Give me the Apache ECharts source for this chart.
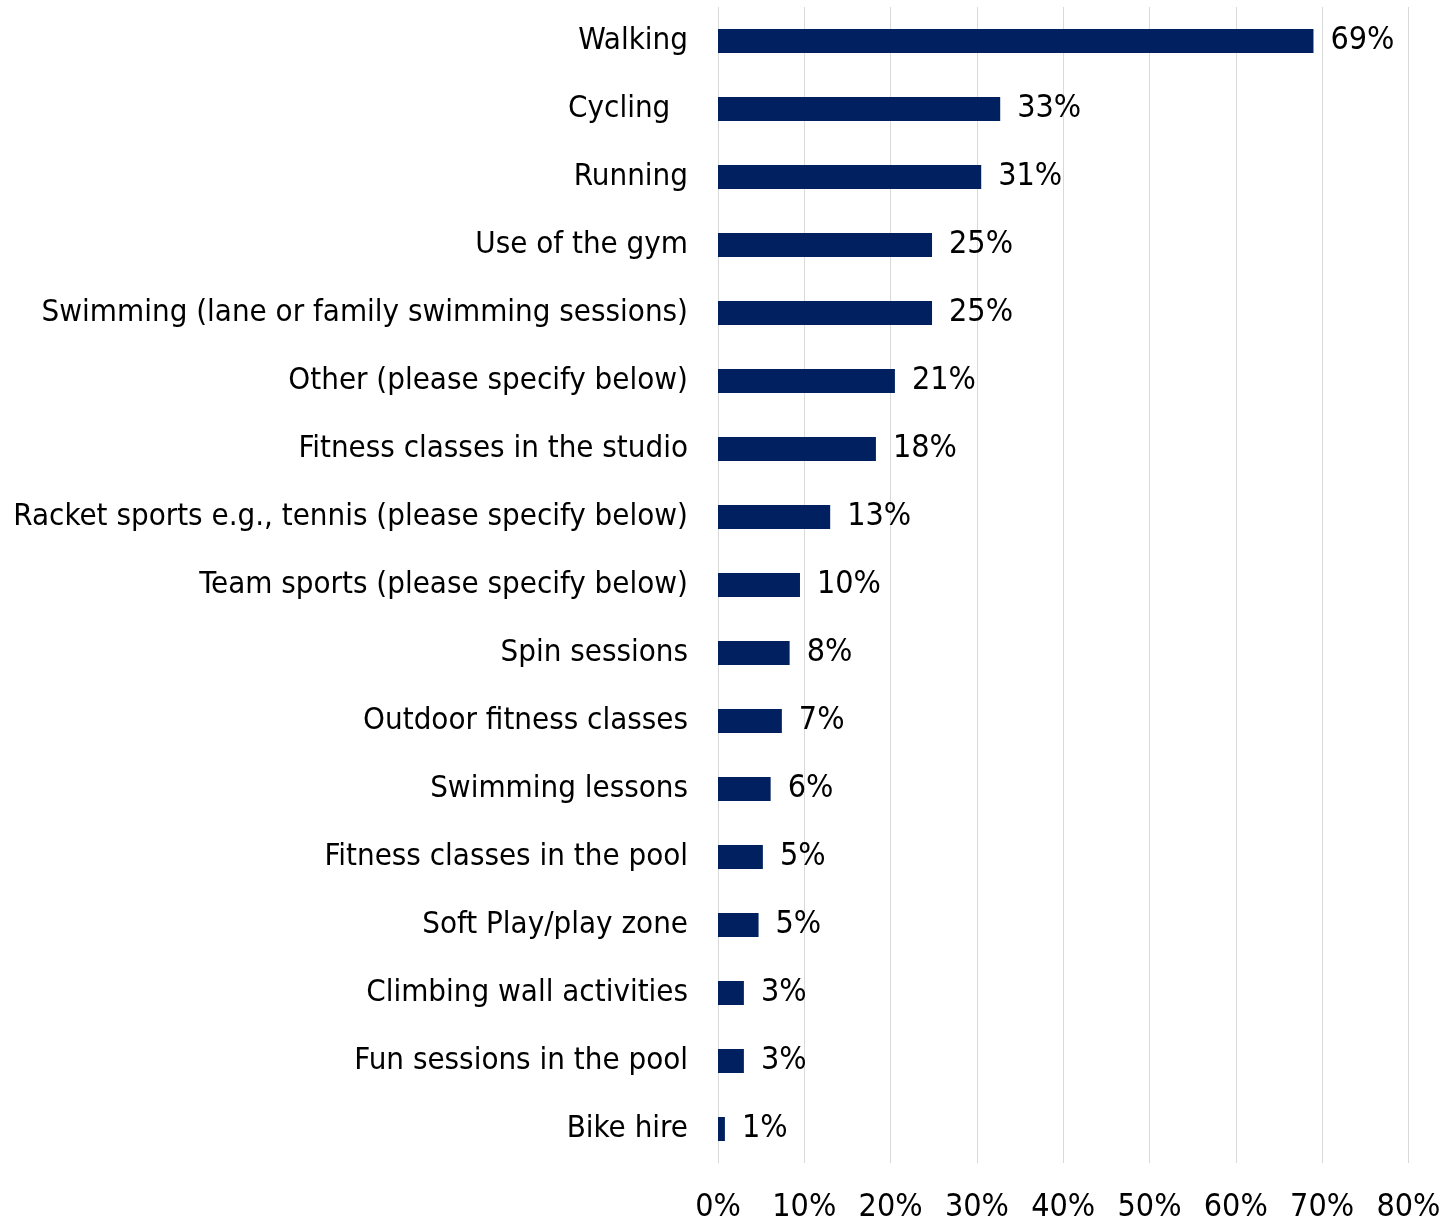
<!DOCTYPE html>
<html>
<head>
<meta charset="utf-8">
<script src="https://cdn.jsdelivr.net/npm/echarts@6/dist/echarts.min.js"></script>
<style>
html,body{margin:0;padding:0;background:#fff;}
#chart{width:1456px;height:1221px;}
</style>
</head>
<body>
<div id="chart"></div>
<script>
var categories = [
  "Walking",
  "Cycling  ",
  "Running",
  "Use of the gym",
  "Swimming (lane or family swimming sessions)",
  "Other (please specify below)",
  "Fitness classes in the studio",
  "Racket sports e.g., tennis (please specify below)",
  "Team sports (please specify below)",
  "Spin sessions",
  "Outdoor fitness classes",
  "Swimming lessons",
  "Fitness classes in the pool",
  "Soft Play/play zone",
  "Climbing wall activities",
  "Fun sessions in the pool",
  "Bike hire"
];
var values = [69.0, 32.7, 30.5, 24.8, 24.8, 20.5, 18.3, 13.0, 9.5, 8.3, 7.4, 6.1, 5.2, 4.7, 3.0, 3.0, 0.8];
var xTicks = [0, 10, 20, 30, 40, 50, 60, 70, 80];

var FONT = "'DejaVu Sans Condensed', 'DejaVu Sans', sans-serif";
var FS = 31;
var chart = echarts.init(document.getElementById('chart'));
chart.setOption({
  animation: false,
  backgroundColor: '#ffffff',
  grid: {left: 718, right: 47.6, top: 7, bottom: 58, containLabel: false, outerBoundsMode: 'none'},
  xAxis: {
    type: 'value',
    min: xTicks[0],
    max: xTicks[xTicks.length - 1],
    interval: xTicks[1] - xTicks[0],
    axisLine: {show: false},
    axisTick: {show: false},
    splitLine: {show: true, lineStyle: {color: '#d9d9d9', width: 1}},
    axisLabel: {
      formatter: '{value}%',
      color: '#000',
      fontFamily: FONT,
      fontSize: 32,
      margin: 29
    }
  },
  yAxis: {
    type: 'category',
    data: categories,
    inverse: true,
    axisLine: {show: false},
    axisTick: {show: false},
    axisLabel: {
      color: '#000',
      fontFamily: FONT,
      fontSize: FS,
      margin: 30,
      padding: [4, 0, 0, 0]
    }
  },
  series: [{
    type: 'bar',
    data: values,
    barWidth: 24,
    itemStyle: {color: '#002060'},
    label: {
      show: true,
      position: 'right',
      distance: 17,
      color: '#000',
      fontFamily: FONT,
      fontSize: 32,
      padding: [4, 0, 0, 0],
      formatter: function (p) { return Math.round(p.value) + '%'; }
    }
  }]
});
</script>
</body>
</html>
